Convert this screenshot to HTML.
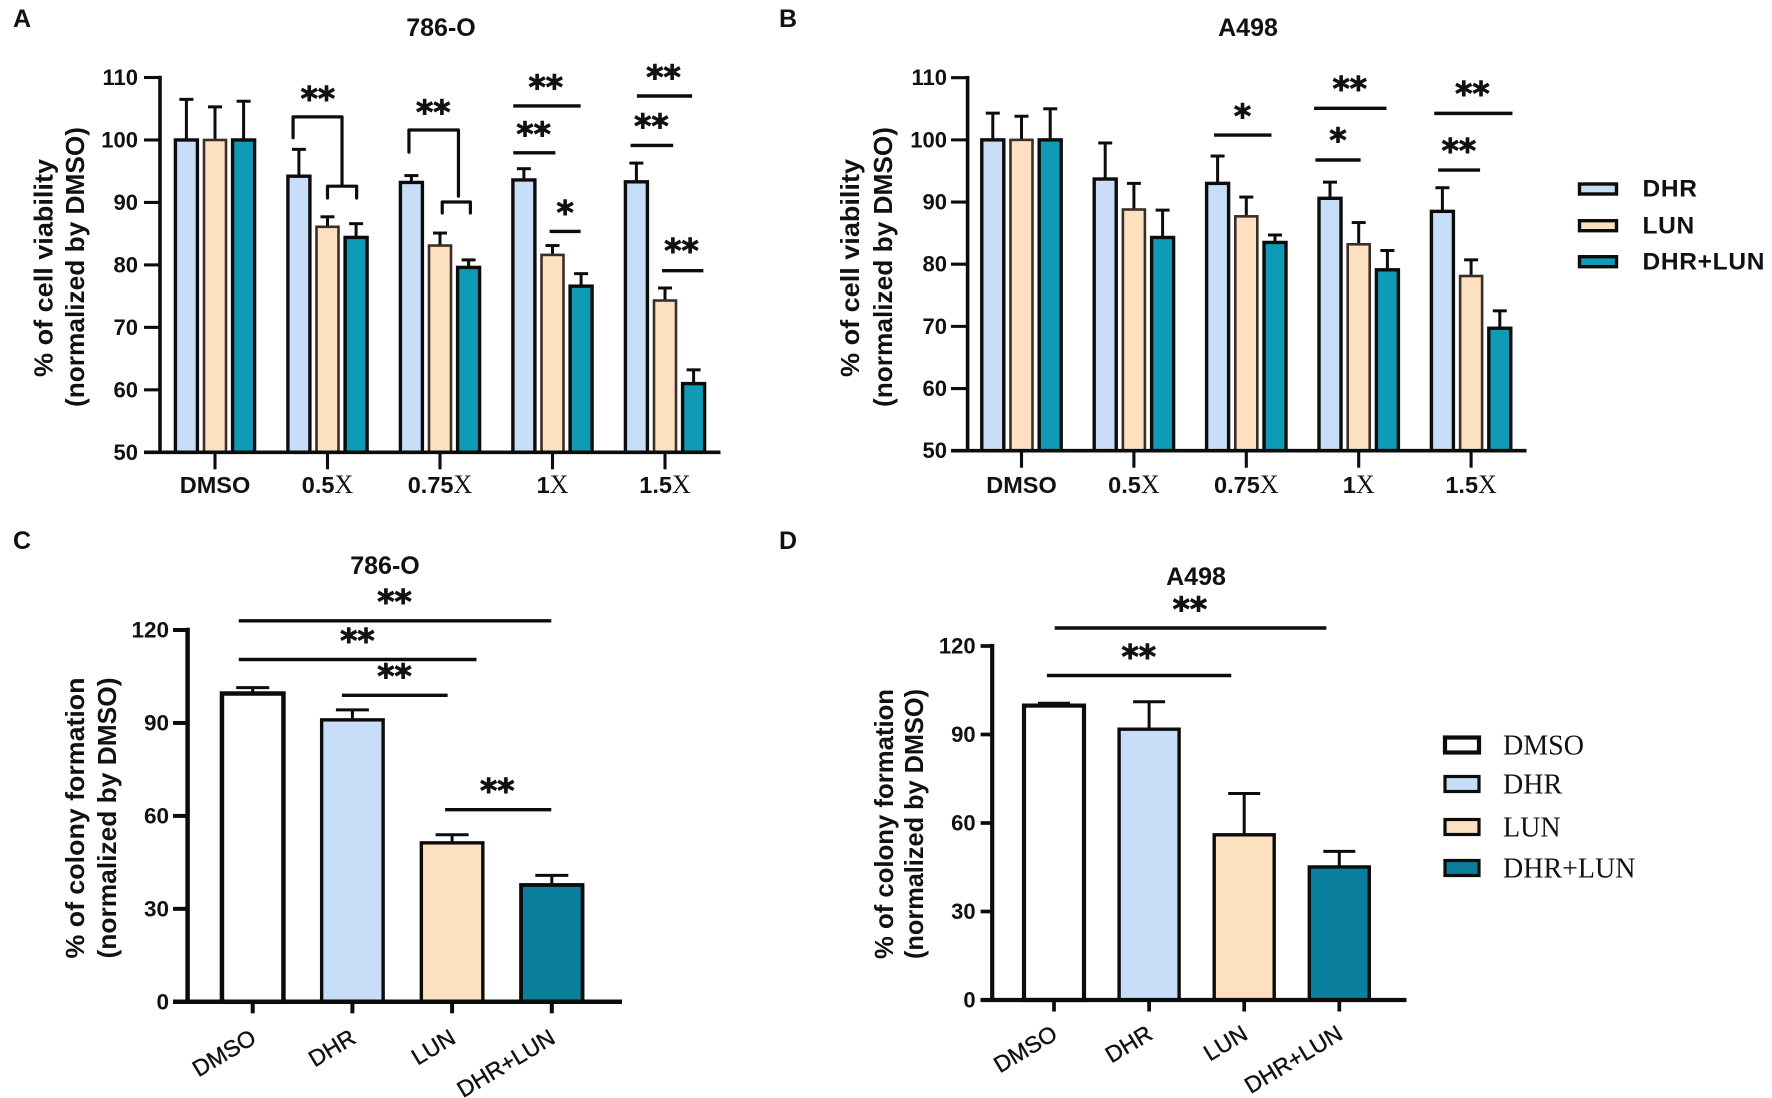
<!DOCTYPE html>
<html lang="en">
<head>
<meta charset="utf-8">
<title>Cell viability and colony formation</title>
<style>
html,body{margin:0;padding:0;background:#fff;}
svg{display:block;}
text{font-family:"Liberation Sans",sans-serif;fill:#111;}
</style>
</head>
<body>
<svg id="figure" xmlns="http://www.w3.org/2000/svg" width="1772" height="1098" viewBox="0 0 1772 1098"></svg>
<script>
// ---------- data ----------
const viabilityGroups = ['DMSO', '0.5', '0.75', '1', '1.5'];
const viabilitySeriesNames = ['DHR', 'LUN', 'DHR+LUN'];
const viabilityTicks = [50, 60, 70, 80, 90, 100, 110];

const a786Dhr = [100, 94.2, 93.2, 93.6, 93.3];
const a786Lun = [100, 86.1, 83.1, 81.6, 74.3];
const a786Combo = [100, 84.4, 79.6, 76.6, 61];
const a786DhrErr = [106.5, 98.5, 94.3, 95.4, 96.3];
const a786LunErr = [105.3, 87.7, 85.1, 83.1, 76.3];
const a786ComboErr = [106.2, 86.6, 80.8, 78.6, 63.2];
const a786Lines = [[2.651, 3.25, 105.44], [2.651, 3.026, 97.94], [2.974, 3.25, 85.35], [3.75, 4.241, 107.04], [3.694, 4.073, 99.12], [3.974, 4.341, 79.08]];
const a786Brackets = [[0.694, 1.129, 100.35, 103.7, 92.85], [1.0, 1.259, 90.7, 92.6, 90.7], [1.724, 2.164, 98.05, 101.6, 91], [2.02, 2.27, 88.3, 90.07, 88.3]];
const a786Stars = [[0.914, 107.04, '**'], [1.94, 104.9, '**'], [2.94, 108.9, '**'], [2.832, 101.4, '**'], [3.879, 102.65, '**'], [3.987, 110.5, '**'], [3.112, 88.8, '*'], [4.147, 82.7, '**']];

const a498Dhr = [100, 93.7, 93, 90.6, 88.5];
const a498Lun = [100, 88.8, 87.7, 83.2, 78.1];
const a498Combo = [100, 84.3, 83.5, 79.1, 69.7];
const a498DhrErr = [104.3, 99.5, 97.4, 93.2, 92.3];
const a498LunErr = [103.8, 93, 90.8, 86.7, 80.7];
const a498ComboErr = [105, 88.7, 84.7, 82.2, 72.5];
const a498Lines = [[1.713, 2.224, 100.78], [2.603, 3.247, 105.07], [2.615, 3.017, 96.76], [3.672, 4.368, 104.26], [3.707, 4.08, 95.15]];
const a498Stars = [[1.966, 104.26, '*'], [2.92, 108.66, '**'], [2.816, 100.4, '*'], [4.011, 107.9, '**'], [3.891, 98.74, '**']];

const colonyGroups = ['DMSO', 'DHR', 'LUN', 'DHR+LUN'];
const colonyTicks = [0, 30, 60, 90, 120];

const colony786Values = [99.5, 91, 51.3, 37.7];
const colony786Err = [101.4, 94.2, 53.9, 40.8];
const colony786Lines = [[-0.14, 2.995, 122.98], [-0.14, 2.245, 110.48], [0.895, 1.955, 98.93], [1.93, 2.995, 62.02]];
const colony786Stars = [[1.422, 130, '**'], [1.05, 117.5, '**'], [1.422, 105.95, '**'], [2.453, 69.05, '**']];

const colonyA498Values = [99.8, 91.8, 56, 45.1];
const colonyA498Err = [100.6, 101.1, 70, 50.4];
const colonyA498Lines = [[0.007, 2.864, 126.1], [-0.075, 1.864, 110]];
const colonyA498Stars = [[1.429, 133.4, '**'], [0.891, 117.4, '**']];

// ---------- helpers ----------
const NS = 'http://www.w3.org/2000/svg';
const root = document.getElementById('figure');
const INK = '#0c0c0c';
const BLUE = '#c8def8', PEACH = '#fde0c0', TEAL = '#0f9ab5', DEEP = '#0a7f9c';

function make(parent, tag, props, label) {
  const el = document.createElementNS(NS, tag);
  for (const k in props) el.setAttribute(k, props[k]);
  
  
  parent.appendChild(el);
  return el;
}
function line(parent, x1, y1, x2, y2, w, label) {
  return make(parent, 'line', {x1, y1, x2, y2, stroke: INK, 'stroke-width': w}, label);
}
function txt(parent, x, y, s, size, weight, anchor, label) {
  const t = make(parent, 'text', {x, y, 'font-size': size, 'font-weight': weight, 'text-anchor': anchor}, label);
  t.textContent = s;
  return t;
}
function rotatedTitle(parent, cx, cy, s, size, len, label) {
  const t = make(parent, 'text', {x: 0, y: 0, 'font-size': size, 'font-weight': 'bold', 'text-anchor': 'middle',
    transform: 'translate(' + cx + ' ' + cy + ') rotate(-90)', textLength: len, lengthAdjust: 'spacingAndGlyphs'}, label);
  t.textContent = s;
  return t;
}

function drawAxes(g, p, ticks, yScale, xScale, count) {
  line(g, p.axisX, yScale(ticks[ticks.length - 1]) - p.axisW / 2, p.axisX, yScale(ticks[0]), p.axisW, 'y-axis');
  line(g, p.tickX, yScale(ticks[0]), p.axisEnd, yScale(ticks[0]), p.axisW, 'x-axis');
  ticks.forEach(function (v) {
    line(g, p.tickX, yScale(v), p.axisX, yScale(v), p.axisW - 0.5, 'y-tick-' + v);
    txt(g, p.tickX - p.labelGap, yScale(v) + 7.5, String(v), p.tickFont, 'bold', 'end', 'y-tick-label-' + v);
  });
  for (let i = 0; i < count; i++) {
    line(g, xScale(i), yScale(ticks[0]), xScale(i), yScale(ticks[0]) + p.tickLen, p.axisW - 0.5, 'x-tick-' + i);
  }
}

function drawBar(g, cx, width, value, errTop, baseY, yScale, fill, stroke, sw, capW, label) {
  const y = yScale(value);
  line(g, cx, y, cx, yScale(errTop), 3, label + '-error-stem');
  line(g, cx - capW / 2, yScale(errTop), cx + capW / 2, yScale(errTop), 3, label + '-error-cap');
  make(g, 'rect', {x: cx - width / 2, y: y, width: width, height: baseY - y, fill: fill, stroke: stroke, 'stroke-width': sw}, label);
}

function drawLines(g, rows, xScale, yScale, w) {
  rows.forEach(function (r, i) {
    line(g, xScale(r[0]), yScale(r[2]), xScale(r[1]), yScale(r[2]), w, 'significance-line-' + i);
  });
}
function drawStars(g, rows, xScale, yScale, size) {
  rows.forEach(function (r, i) {
    const t = txt(g, xScale(r[0]), yScale(r[1]) + size * 0.52 - 3, r[2], size, 'bold', 'middle', 'significance-stars-' + i);
    t.setAttribute('style', 'font-family:"DejaVu Sans",sans-serif');
    t.setAttribute('stroke', '#111');
    t.setAttribute('stroke-width', '0.9');
  });
}
function drawBrackets(g, rows, xScale, yScale) {
  rows.forEach(function (r, i) {
    const d = 'M' + xScale(r[0]) + ' ' + yScale(r[2]) + 'L' + xScale(r[0]) + ' ' + yScale(r[3]) +
      'L' + xScale(r[1]) + ' ' + yScale(r[3]) + 'L' + xScale(r[1]) + ' ' + yScale(r[4]);
    make(g, 'path', {d: d, fill: 'none', stroke: INK, 'stroke-width': 3.2, 'stroke-linejoin': 'round', 'stroke-linecap': 'round'}, 'significance-bracket-' + i);
  });
}

function viabilityPanel(name, p, series, errs, lines, brackets, stars) {
  const g = make(root, 'g', {}, name);
  const yScale = function (v) { return p.y50 + (v - 50) * (p.y110 - p.y50) / 60; };
  const xScale = function (u) { return p.x0 + u * p.pitch; };
  const fills = [BLUE, PEACH, TEAL];
  const strokes = [INK, '#3a2f28', INK];
  series.forEach(function (vals, s) {
    vals.forEach(function (v, i) {
      drawBar(g, xScale(i) + (s - 1) * p.barStep, p.barW, v, errs[s][i], yScale(50), yScale, fills[s], strokes[s], s === 1 ? 2.6 : 3.4, 14,
        'bar-' + viabilitySeriesNames[s].toLowerCase().replace('+', '-') + '-' + viabilityGroups[i].replace('.', '-').toLowerCase());
    });
  });
  drawAxes(g, p, viabilityTicks, yScale, xScale, viabilityGroups.length);
  viabilityGroups.forEach(function (c, i) {
    const t = txt(g, xScale(i), p.labelY, c, 23.5, 'bold', 'middle', 'x-label-' + c.replace('.', '-').toLowerCase());
    if (i > 0) {
      const x = document.createElementNS(NS, 'tspan');
      x.setAttribute('style', 'font-family:"Liberation Serif",serif;font-weight:normal');
      x.setAttribute('font-size', '26');
      x.textContent = 'X';
      t.appendChild(x);
    }
  });
  drawLines(g, lines, xScale, yScale, 3.4);
  drawBrackets(g, brackets, xScale, yScale);
  drawStars(g, stars, xScale, yScale, 33);
  txt(g, p.titleX, 36, p.title, 25, 'bold', 'middle', 'chart-title');
  rotatedTitle(g, p.ty1, 268, '% of cell viability', 26, 218, 'y-axis-title-line-1');
  rotatedTitle(g, p.ty2, 267, '(normalized by DMSO)', 26, 280, 'y-axis-title-line-2');
}

function colonyPanel(name, p, values, errs, lines, stars) {
  const g = make(root, 'g', {}, name);
  const yScale = function (v) { return p.y0 + v * (p.y120 - p.y0) / 120; };
  const xScale = function (u) { return p.x0 + u * p.pitch; };
  const fills = ['#ffffff', BLUE, PEACH, DEEP];
  values.forEach(function (v, i) {
    drawBar(g, xScale(i), p.barW, v, errs[i], yScale(0), yScale, fills[i], INK, p.barStroke[i], p.capW,
      'bar-' + colonyGroups[i].toLowerCase().replace('+', '-'));
  });
  drawAxes(g, p, colonyTicks, yScale, xScale, colonyGroups.length);
  colonyGroups.forEach(function (c, i) {
    const t = txt(g, 0, 0, c, 23, 'normal', 'end', 'x-label-' + c.toLowerCase().replace('+', '-'));
    t.setAttribute('transform', 'translate(' + (xScale(i) + 5) + ' ' + p.labelY + ') rotate(-31)');
    t.setAttribute('stroke', '#111');
    t.setAttribute('stroke-width', '0.4');
  });
  drawLines(g, lines, xScale, yScale, 3.4);
  drawStars(g, stars, xScale, yScale, 33);
  txt(g, p.titleX, p.titleY, p.title, 25, 'bold', 'middle', 'chart-title');
  rotatedTitle(g, p.ty1, p.tcy, '% of colony formation', 26, p.tlen, 'y-axis-title-line-1');
  rotatedTitle(g, p.ty2, p.tcy, '(normalized by DMSO)', 26, p.tlen, 'y-axis-title-line-2');
}

// ---------- panels ----------
viabilityPanel('panel-a-786-o-viability',
  {x0: 215, pitch: 112.5, barStep: 28.6, barW: 22, y50: 452.3, y110: 77.5, axisX: 160, tickX: 144, axisEnd: 720.5, axisW: 3.6,
   labelGap: 6, tickFont: 22, tickLen: 17, labelY: 493, title: '786-O', titleX: 441, ty1: 52.5, ty2: 84},
  [a786Dhr, a786Lun, a786Combo], [a786DhrErr, a786LunErr, a786ComboErr], a786Lines, a786Brackets, a786Stars);

viabilityPanel('panel-b-a498-viability',
  {x0: 1021.5, pitch: 112.4, barStep: 28.7, barW: 22, y50: 450.7, y110: 77.7, axisX: 967.6, tickX: 951, axisEnd: 1526.5, axisW: 3.6,
   labelGap: 4, tickFont: 22, tickLen: 17, labelY: 493, title: 'A498', titleX: 1248, ty1: 859, ty2: 892},
  [a498Dhr, a498Lun, a498Combo], [a498DhrErr, a498LunErr, a498ComboErr], a498Lines, [], a498Stars);

colonyPanel('panel-c-786-o-colony',
  {x0: 252.7, pitch: 99.7, barW: 61.5, barStroke: [4.5, 3.4, 3.4, 3.8], capW: 33, y0: 1001.8, y120: 630, axisX: 187.6, tickX: 173, axisEnd: 622, axisW: 4.5,
   labelGap: 4, tickFont: 22.5, tickLen: 11.5, labelY: 1042, title: '786-O', titleX: 385, titleY: 574, ty1: 84, ty2: 116, tcy: 818, tlen: 281},
  colony786Values, colony786Err, colony786Lines, colony786Stars);

colonyPanel('panel-d-a498-colony',
  {x0: 1054, pitch: 95.1, barW: 60, barStroke: [4.2, 3.4, 3.4, 3.4], capW: 32, y0: 1000, y120: 646, axisX: 992.2, tickX: 980.6, axisEnd: 1406.5, axisW: 4.2,
   labelGap: 5, tickFont: 22, tickLen: 11.5, labelY: 1038, title: 'A498', titleX: 1196, titleY: 585, ty1: 893, ty2: 923, tcy: 824, tlen: 270},
  colonyA498Values, colonyA498Err, colonyA498Lines, colonyA498Stars);

// ---------- legends ----------
const legendTop = make(root, 'g', {}, 'legend-viability');
viabilitySeriesNames.forEach(function (n, i) {
  const cy = [189, 225.7, 261.7][i];
  make(legendTop, 'rect', {x: 1579.5, y: cy - 5, width: 37, height: 10, fill: [BLUE, PEACH, TEAL][i], stroke: INK, 'stroke-width': 3.4}, 'legend-swatch-' + n.toLowerCase().replace('+', '-'));
  const t = txt(legendTop, 1642.5, cy + 7.7, n, 24.5, 'bold', 'start', 'legend-label-' + n.toLowerCase().replace('+', '-'));
  t.setAttribute('letter-spacing', '0.7');
});
const legendBottom = make(root, 'g', {}, 'legend-colony');
colonyGroups.forEach(function (n, i) {
  const cy = [745, 784, 827, 868][i];
  make(legendBottom, 'rect', {x: 1445, y: cy - 7.5, width: 34, height: 15, fill: ['#ffffff', BLUE, PEACH, DEEP][i], stroke: INK, 'stroke-width': i === 0 ? 4.2 : 3.2}, 'legend-swatch-' + n.toLowerCase().replace('+', '-'));
  const t = txt(legendBottom, 1503, cy + 9.5, n, 28, 'normal', 'start', 'legend-label-' + n.toLowerCase().replace('+', '-'));
  t.setAttribute('style', 'font-family:"Liberation Serif",serif');
});

// ---------- panel letters ----------
const panelLetters = ['A', 'B', 'C', 'D'];
panelLetters.forEach(function (s, i) {
  txt(root, [13, 779, 13, 779][i], [27, 27, 549, 549][i], s, 25, 'bold', 'start', 'panel-letter-' + s.toLowerCase());
});
</script>
</body>
</html>
